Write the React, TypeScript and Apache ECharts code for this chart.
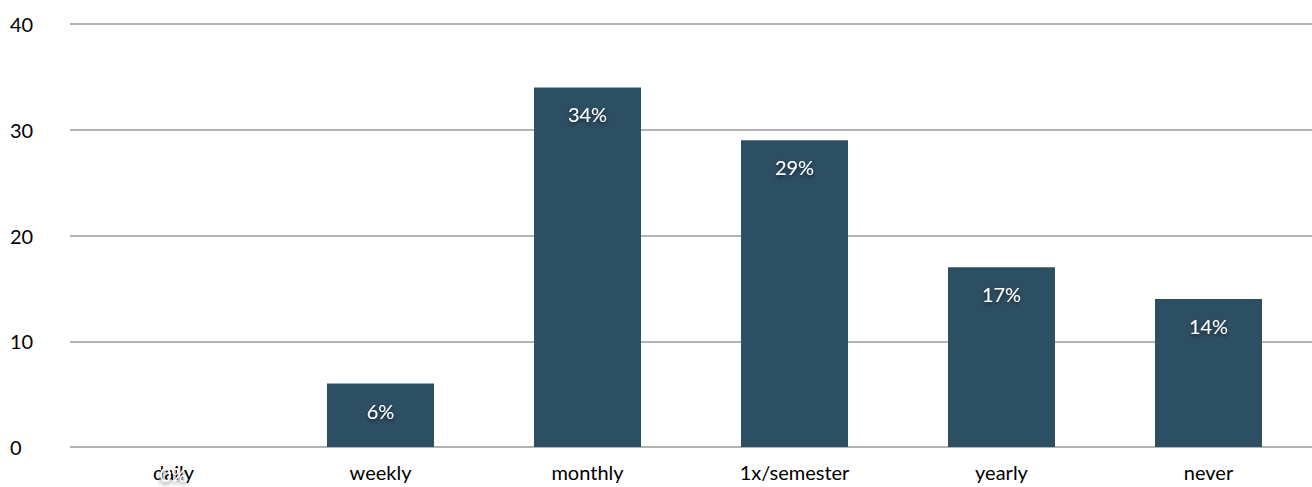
import React, { useEffect, useRef } from "react";
import * as echarts from "echarts";

const categories = ["daily", "weekly", "monthly", "1x/semester", "yearly", "never"];
const values = [0, 6, 34, 29, 17, 14];
const labels = ["0%", "6%", "34%", "29%", "17%", "14%"];

export default function App() {
  const ref = useRef<HTMLDivElement>(null);
  useEffect(() => {
    const chart = echarts.init(ref.current!, undefined, { renderer: "svg" });
    const font = "Lato, 'DejaVu Sans', sans-serif";
    chart.setOption({
      animation: false,
      grid: { left: 70, right: 0, top: 24, bottom: 40, containLabel: false },
      xAxis: {
        type: "category",
        data: categories,
        axisLine: { show: false },
        axisTick: { show: false },
        axisLabel: { color: "#000", fontSize: 20, fontFamily: font, margin: 15 },
      },
      yAxis: {
        type: "value",
        min: 0,
        max: 40,
        interval: 10,
        axisLine: { show: false },
        axisTick: { show: false },
        splitLine: { lineStyle: { color: "#b3b3b3", width: 2 } },
        axisLabel: { color: "#000", fontSize: 20, fontFamily: font, align: "left", margin: 60 },
      },
      series: [
        {
          type: "bar",
          data: values,
          barWidth: 107,
          itemStyle: { color: "#2d4f63" },
          label: {
            show: true,
            position: "insideTop",
            distance: 17,
            color: "#fff",
            fontSize: 20,
            fontFamily: font,
            formatter: (p: any) => labels[p.dataIndex],
            textShadowColor: "rgba(0,0,0,0.6)",
            textShadowBlur: 4,
            textShadowOffsetY: 2,
          },
        },
      ],
    });
    return () => chart.dispose();
  }, []);
  return <div ref={ref} style={{ width: 1312, height: 487, position: "absolute", left: 0, top: 0 }} />;
}
